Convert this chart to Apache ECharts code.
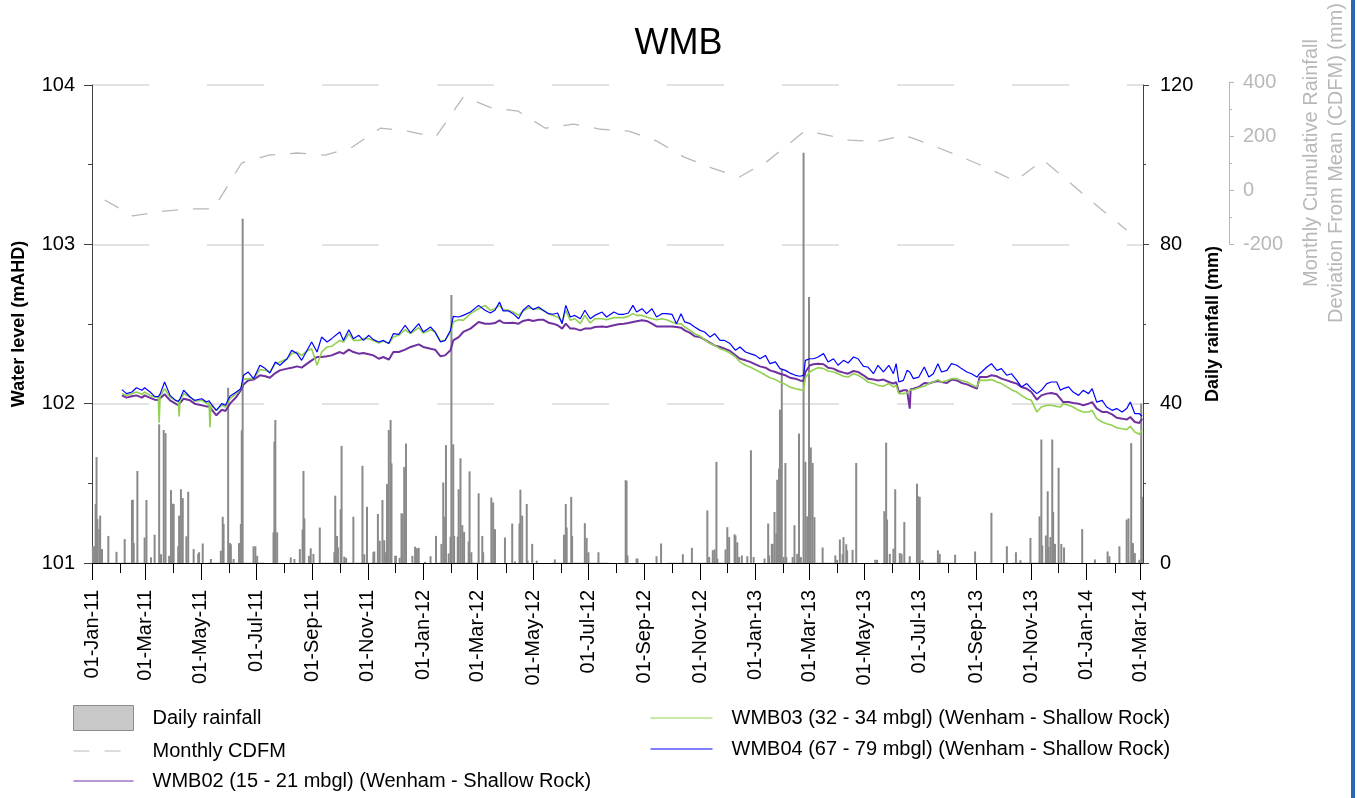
<!DOCTYPE html>
<html>
<head>
<meta charset="utf-8">
<title>WMB</title>
<script src="https://cdn.jsdelivr.net/npm/echarts@6/dist/echarts.min.js"></script>
<style>
  html, body { margin: 0; padding: 0; background: #fff; }
  #chart { width: 1357px; height: 798px; }
</style>
</head>
<body>
<div id="chart"></div>
<script>
// all days are counted from 01-Jan-2011 (day 0)
var dayCount = 1159
var monthNames = ['Jan', 'Feb', 'Mar', 'Apr', 'May', 'Jun', 'Jul', 'Aug', 'Sep', 'Oct', 'Nov', 'Dec']

// daily rainfall (mm), only days with rain
var rainDay = [1, 3, 4, 5, 6, 8, 9, 11, 18, 27, 36, 44, 45, 46, 50, 58, 60, 65, 69, 74, 76, 79, 81, 85, 87, 89, 90, 95, 96, 98,
  100, 104, 106, 112, 117, 118, 122, 131, 142, 144, 145, 150, 152, 153, 156, 162, 164, 165, 166, 178, 180, 182, 200, 201, 202, 204,
  219, 223, 229, 232, 233, 234, 239, 241, 244, 251, 267, 268, 270, 271, 274, 275, 278, 280, 288, 298, 300, 303, 310, 311, 315, 317,
  320, 322, 324, 325, 327, 329, 330, 334, 335, 339, 341, 342, 344, 346, 353, 356, 358, 360, 367, 373, 379, 385, 387, 389, 390, 393,
  395, 396, 398, 399, 403, 404, 406, 408, 410, 415, 416, 418, 426, 430, 431, 440, 442, 444, 455, 463, 466, 471, 472, 474, 479, 480,
  485, 490, 510, 520, 522, 523, 528, 529, 543, 545, 547, 558, 588, 589, 590, 600, 601, 622, 627, 651, 661, 678, 680, 684, 686, 688,
  689, 698, 700, 702, 708, 709, 711, 713, 716, 722, 726, 729, 741, 745, 746, 749, 750, 752, 754, 755, 757, 758, 760, 762, 764, 765,
  772, 774, 777, 778, 779, 781, 784, 786, 788, 790, 792, 794, 796, 805, 819, 821, 824, 827, 828, 831, 832, 838, 842, 863, 865, 873,
  875, 876, 879, 883, 885, 890, 892, 895, 901, 909, 910, 912, 915, 932, 934, 951, 973, 991, 1008, 1018, 1023, 1034, 1044, 1046, 1047,
  1051, 1053, 1054, 1056, 1058, 1059, 1061, 1065, 1068, 1071, 1091, 1105, 1119, 1121, 1132, 1140, 1142, 1145, 1147, 1149, 1154, 1156, 1157]
var rainMm = [4.2, 4.2, 14.8, 26.6, 11.0, 8.5, 11.9, 3.5, 6.8, 2.8, 6.0, 15.8, 15.9, 5.0, 23.1, 6.4, 15.8, 1.4, 7.1, 34.8, 2.2, 33.4, 32.6, 1.8, 18.3, 14.9, 14.8, 4.2, 11.9, 18.5,
  16.3, 6.7, 17.9, 3.5, 2.3, 2.7, 4.9, 1.0, 3.1, 11.6, 9.8, 44.0, 5.0, 4.7, 1.0, 5.0, 9.8, 33.3, 86.4, 4.2, 4.2, 1.8, 7.7, 30.5, 35.9, 7.7,
  1.4, 1.0, 3.5, 8.4, 23.1, 11.2, 1.8, 3.7, 2.3, 8.9, 2.7, 16.9, 6.8, 3.9, 13.5, 29.4, 1.6, 1.3, 11.6, 24.4, 2.2, 14.1, 2.7, 2.9, 12.3, 5.6,
  15.8, 5.7, 2.7, 19.8, 33.4, 35.9, 25.0, 1.8, 1.8, 1.3, 12.5, 12.3, 24.1, 30.0, 1.8, 4.1, 3.7, 3.8, 0.3, 1.7, 6.8, 4.8, 20.2, 11.6, 29.6, 2.4,
  6.6, 67.3, 29.8, 6.8, 6.6, 18.5, 26.3, 9.5, 7.8, 5.4, 23.0, 2.7, 17.5, 6.8, 2.7, 16.4, 15.2, 8.5, 6.4, 9.9, 0.4, 9.9, 18.4, 11.9, 14.8, 0.6,
  4.8, 0.6, 0.9, 7.1, 14.8, 8.9, 16.6, 6.8, 10.0, 6.3, 2.7, 2.7, 20.8, 20.6, 1.9, 1.1, 1.1, 1.7, 4.9, 2.2, 3.8, 13.2, 1.5, 3.2, 3.4, 25.4,
  1.1, 3.4, 9.0, 6.5, 7.2, 6.9, 5.2, 1.5, 1.9, 1.7, 28.3, 1.5, 1.1, 9.9, 1.9, 4.8, 4.8, 12.8, 7.4, 20.9, 23.7, 38.5, 48.7, 1.5, 25.1, 1.5,
  1.5, 9.5, 2.3, 1.7, 32.5, 1.5, 103.0, 25.4, 11.7, 66.8, 29.0, 25.1, 11.5, 3.9, 1.9, 0.8, 5.9, 2.2, 6.5, 4.7, 3.2, 3.3, 25.1, 0.8, 0.8, 13.0,
  30.2, 10.9, 2.3, 3.6, 18.5, 2.5, 2.3, 10.3, 1.7, 19.9, 16.8, 16.6, 0.7, 3.2, 2.3, 2.1, 2.9, 12.6, 4.2, 2.7, 0.7, 6.3, 11.7, 31.0, 4.4,
  6.9, 18.0, 4.0, 6.5, 31.0, 12.8, 4.8, 23.9, 4.8, 3.9, 8.5, 0.9, 2.9, 1.7, 4.2, 10.9, 11.2, 30.1, 5.0, 2.5, 0.8, 40.0, 16.6]

// monthly cumulative rainfall deviation from mean (mm)
var cdfmDay = [14, 45, 73, 104, 134, 165, 195, 226, 257, 287, 318, 348, 379, 410, 439, 470, 500, 531, 561, 592, 623, 653, 684, 714,
  745, 786, 804, 835, 865, 896, 926, 957, 988, 1018, 1049, 1079, 1110, 1141]
var cdfmMm = [-37, -96, -81, -70, -70, 100, 129, 137, 129, 159, 229, 218, 196, 347, 306, 292, 229, 244, 225, 218, 181, 122, 81, 48,
  107, 218, 208, 185, 179, 203, 166, 125, 81, 33, 111, 26, -63, -148]

// groundwater levels (mAHD)
var levelDay = [33, 38, 44, 49, 55, 58, 64, 69, 73, 74, 75, 80, 86, 92, 95, 96, 97, 101, 108, 113, 121, 126, 129, 130, 131, 137, 143, 147,
  152, 159, 164, 167, 172, 178, 185, 191, 196, 202, 207, 215, 220, 226, 231, 237, 242, 248, 253, 259, 264, 273, 277, 283, 288, 294,
  299, 305, 310, 316, 321, 327, 332, 338, 345, 351, 360, 365, 373, 378, 384, 389, 395, 398, 404, 409, 417, 426, 433, 439, 444, 449,
  453, 459, 464, 470, 475, 481, 486, 492, 497, 503, 508, 513, 518, 522, 527, 532, 538, 543, 549, 554, 562, 567, 575, 580, 586, 591,
  596, 600, 606, 611, 617, 622, 628, 633, 639, 644, 649, 653, 659, 664, 670, 675, 681, 686, 692, 697, 703, 709, 714, 720, 725, 731,
  736, 742, 747, 753, 758, 764, 769, 775, 780, 784, 786, 791, 795, 800, 806, 811, 817, 822, 828, 833, 839, 844, 850, 855, 861, 866,
  872, 878, 883, 886, 889, 894, 898, 900, 901, 902, 905, 911, 917, 922, 927, 932, 936, 942, 947, 953, 958, 964, 969, 975, 978, 980,
  986, 991, 997, 1002, 1008, 1013, 1019, 1024, 1030, 1035, 1041, 1046, 1052, 1057, 1063, 1067, 1070, 1076, 1081, 1087, 1092, 1098,
  1102, 1107, 1113, 1118, 1124, 1129, 1135, 1140, 1144, 1149, 1154, 1157]
var wmb02 = [102.052, 102.038, 102.046, 102.052, 102.038, 102.052, 102.036, 102.025, 102.023, 102.021, 102.030, 102.059, 102.021, 102.000,
  101.990, 101.983, 101.995, 102.031, 102.021, 102.000, 101.990, 101.983, 101.983, 101.983, 101.975, 101.927, 101.962, 101.954,
  102.000, 102.042, 102.084, 102.121, 102.146, 102.151, 102.178, 102.172, 102.163, 102.192, 102.209, 102.220, 102.226, 102.234,
  102.226, 102.251, 102.272, 102.293, 102.293, 102.297, 102.303, 102.324, 102.314, 102.339, 102.324, 102.314, 102.318, 102.310,
  102.303, 102.282, 102.293, 102.276, 102.324, 102.324, 102.339, 102.356, 102.372, 102.356, 102.345, 102.339, 102.297, 102.303,
  102.335, 102.397, 102.418, 102.450, 102.471, 102.513, 102.502, 102.502, 102.506, 102.523, 102.508, 102.506, 102.508, 102.502,
  102.519, 102.527, 102.519, 102.527, 102.527, 102.508, 102.502, 102.492, 102.471, 102.502, 102.471, 102.471, 102.460, 102.471,
  102.471, 102.481, 102.485, 102.481, 102.492, 102.498, 102.502, 102.506, 102.513, 102.517, 102.523, 102.519, 102.502, 102.485,
  102.485, 102.485, 102.485, 102.481, 102.477, 102.460, 102.444, 102.423, 102.418, 102.402, 102.381, 102.366, 102.356, 102.345,
  102.331, 102.303, 102.282, 102.272, 102.262, 102.247, 102.234, 102.226, 102.209, 102.199, 102.188, 102.178, 102.163, 102.157,
  102.146, 102.142, 102.199, 102.241, 102.247, 102.251, 102.247, 102.226, 102.220, 102.205, 102.195, 102.188, 102.205, 102.199,
  102.178, 102.157, 102.151, 102.146, 102.151, 102.136, 102.126, 102.136, 102.073, 102.084, 102.084, 102.088, 101.969, 102.090,
  102.094, 102.105, 102.130, 102.126, 102.136, 102.142, 102.136, 102.130, 102.151, 102.146, 102.130, 102.121, 102.109, 102.094,
  102.167, 102.167, 102.167, 102.178, 102.172, 102.157, 102.146, 102.136, 102.126, 102.105, 102.094, 102.073, 102.025, 102.052,
  102.063, 102.067, 102.059, 102.031, 102.010, 102.010, 102.004, 102.000, 101.990, 102.000, 102.010, 101.969, 101.948, 101.948,
  101.933, 101.912, 101.906, 101.900, 101.916, 101.885, 101.879, 101.906]
var wmb03 = [102.063, 102.052, 102.063, 102.073, 102.059, 102.073, 102.052, 102.042, 102.040, 101.880, 102.045, 102.094, 102.042, 102.021,
  102.012, 101.920, 102.020, 102.063, 102.042, 102.015, 102.021, 102.000, 102.005, 101.850, 101.990, 101.958, 101.990, 101.979,
  102.031, 102.063, 102.094, 102.151, 102.157, 102.157, 102.213, 102.209, 102.199, 102.251, 102.262, 102.282, 102.314, 102.324,
  102.303, 102.331, 102.345, 102.241, 102.324, 102.356, 102.360, 102.397, 102.387, 102.439, 102.397, 102.397, 102.408, 102.408,
  102.397, 102.381, 102.393, 102.377, 102.418, 102.429, 102.464, 102.439, 102.477, 102.444, 102.464, 102.450, 102.393, 102.397,
  102.450, 102.513, 102.527, 102.523, 102.565, 102.596, 102.617, 102.586, 102.596, 102.617, 102.590, 102.586, 102.575, 102.554,
  102.582, 102.602, 102.596, 102.596, 102.586, 102.565, 102.554, 102.544, 102.513, 102.586, 102.523, 102.533, 102.502, 102.554,
  102.506, 102.533, 102.533, 102.527, 102.540, 102.540, 102.540, 102.548, 102.565, 102.554, 102.554, 102.544, 102.533, 102.527,
  102.533, 102.527, 102.513, 102.502, 102.502, 102.481, 102.460, 102.439, 102.423, 102.402, 102.377, 102.366, 102.345, 102.335,
  102.318, 102.293, 102.262, 102.241, 102.230, 102.213, 102.199, 102.178, 102.163, 102.151, 102.136, 102.121, 102.105, 102.094,
  102.088, 102.084, 102.163, 102.199, 102.213, 102.226, 102.220, 102.205, 102.199, 102.188, 102.172, 102.167, 102.188, 102.178,
  102.157, 102.136, 102.126, 102.115, 102.109, 102.126, 102.105, 102.115, 102.063, 102.063, 102.067, 102.075, 102.084, 102.085,
  102.088, 102.100, 102.109, 102.126, 102.136, 102.151, 102.136, 102.146, 102.157, 102.157, 102.146, 102.136, 102.121, 102.105,
  102.146, 102.151, 102.146, 102.151, 102.136, 102.126, 102.105, 102.088, 102.073, 102.052, 102.031, 102.021, 101.948, 101.979,
  101.990, 101.990, 101.983, 101.979, 102.000, 101.990, 101.979, 101.958, 101.948, 101.948, 101.958, 101.906, 101.885, 101.874,
  101.864, 101.849, 101.843, 101.837, 101.858, 101.822, 101.808, 101.837]
var wmb04 = [102.088, 102.063, 102.073, 102.100, 102.084, 102.100, 102.073, 102.046, 102.044, 102.042, 102.060, 102.136, 102.052, 102.021,
  102.015, 102.010, 102.030, 102.084, 102.042, 102.021, 102.031, 102.010, 102.018, 102.021, 102.000, 101.958, 102.000, 101.990,
  102.046, 102.073, 102.094, 102.178, 102.199, 102.157, 102.241, 102.220, 102.192, 102.262, 102.241, 102.282, 102.335, 102.314,
  102.272, 102.335, 102.387, 102.324, 102.418, 102.387, 102.408, 102.450, 102.397, 102.464, 102.408, 102.429, 102.397, 102.429,
  102.402, 102.387, 102.397, 102.377, 102.439, 102.435, 102.492, 102.444, 102.502, 102.450, 102.481, 102.450, 102.387, 102.397,
  102.460, 102.548, 102.544, 102.554, 102.575, 102.617, 102.586, 102.569, 102.586, 102.638, 102.582, 102.582, 102.565, 102.533,
  102.586, 102.617, 102.590, 102.607, 102.586, 102.565, 102.561, 102.569, 102.502, 102.617, 102.544, 102.554, 102.533, 102.586,
  102.533, 102.554, 102.575, 102.544, 102.575, 102.561, 102.561, 102.569, 102.617, 102.575, 102.596, 102.565, 102.596, 102.544,
  102.565, 102.565, 102.561, 102.502, 102.565, 102.513, 102.502, 102.481, 102.460, 102.450, 102.418, 102.439, 102.397, 102.397,
  102.377, 102.335, 102.356, 102.324, 102.314, 102.303, 102.282, 102.303, 102.251, 102.262, 102.220, 102.209, 102.192, 102.178,
  102.172, 102.178, 102.272, 102.282, 102.282, 102.293, 102.314, 102.262, 102.282, 102.241, 102.272, 102.255, 102.293, 102.282,
  102.234, 102.230, 102.188, 102.241, 102.199, 102.241, 102.188, 102.251, 102.136, 102.146, 102.209, 102.204, 102.199, 102.190,
  102.157, 102.167, 102.230, 102.167, 102.188, 102.251, 102.199, 102.209, 102.251, 102.241, 102.220, 102.199, 102.188, 102.167,
  102.188, 102.199, 102.230, 102.251, 102.209, 102.220, 102.178, 102.188, 102.146, 102.105, 102.126, 102.094, 102.063, 102.084,
  102.126, 102.136, 102.136, 102.084, 102.094, 102.105, 102.073, 102.052, 102.084, 102.063, 102.094, 102.010, 102.021, 101.979,
  101.958, 101.969, 101.948, 101.969, 102.010, 101.937, 101.937, 101.921]

var names = {
  rain: 'Daily rainfall',
  cdfm: 'Monthly CDFM',
  w02: 'WMB02 (15 - 21 mbgl) (Wenham - Shallow Rock)',
  w03: 'WMB03 (32 - 34 mbgl) (Wenham - Shallow Rock)',
  w04: 'WMB04 (67 - 79 mbgl) (Wenham - Shallow Rock)'
}

var days = []
for (var i = 0; i < dayCount; i++) {
  days.push(new Date(Date.UTC(2011, 0, 1 + i)).toISOString().slice(0, 10))
}

function pairs(xs, ys) {
  return xs.map(function (x, i) { return [x, ys[i]] })
}
function isMonthStart(idx, value) {
  return value.slice(8) === '01'
}
function isOddMonthStart(idx, value) {
  return value.slice(8) === '01' && Number(value.slice(5, 7)) % 2 === 1
}
function dayLabel(value) {
  return value.slice(8) + '-' + monthNames[Number(value.slice(5, 7)) - 1] + '-' + value.slice(2, 4)
}
// legend entry for a line: plain line, no marker
function lineEntry(name) {
  return { name: name, itemStyle: { opacity: 0 } }
}

var font = "'Liberation Sans', Arial, sans-serif"
var axisGrey = '#404040'
var cdfmGrey = '#b8b8b8'

var chart = echarts.init(document.getElementById('chart'))
chart.setOption({
  animation: false,
  textStyle: { fontFamily: font },
  title: {
    text: 'WMB',
    left: 'center',
    top: 21,
    textStyle: { fontSize: 36, fontWeight: 'normal', color: '#000', fontFamily: font }
  },
  legend: [{
    left: 73,
    top: 705,
    padding: 0,
    orient: 'vertical',
    itemWidth: 60,
    itemHeight: 25,
    itemGap: 10,
    selectedMode: false,
    lineStyle: { width: 1 },
    textStyle: { fontSize: 20, color: '#000', padding: [0, 0, 0, 14] },
    data: [
      { name: names.rain, icon: 'rect', itemStyle: { color: '#c8c8c8', borderColor: '#8c8c8c', borderWidth: 1 } },
      lineEntry(names.cdfm),
      lineEntry(names.w02)
    ]
  }, {
    left: 650,
    top: 708,
    padding: 0,
    orient: 'vertical',
    itemWidth: 62,
    itemHeight: 25,
    itemGap: 11,
    selectedMode: false,
    lineStyle: { width: 1 },
    textStyle: { fontSize: 20, color: '#000', padding: [0, 0, 0, 14] },
    data: [lineEntry(names.w03), lineEntry(names.w04)]
  }],
  grid: [
    { left: 92, right: 214, top: 85, bottom: 235 },
    { left: 92, right: 214, top: 81, height: 163 }
  ],
  xAxis: [{
    type: 'category',
    gridIndex: 0,
    data: days,
    boundaryGap: false,
    position: 'bottom',
    axisLine: { lineStyle: { color: '#000' } },
    axisTick: { interval: isOddMonthStart, length: 17, lineStyle: { color: '#000' } },
    axisLabel: {
      interval: isOddMonthStart,
      rotate: 90,
      margin: 27,
      fontSize: 20,
      color: '#000',
      formatter: dayLabel
    },
    splitLine: { show: false }
  }, {
    type: 'category',
    gridIndex: 0,
    data: days,
    boundaryGap: false,
    position: 'bottom',
    axisLine: { show: false },
    axisTick: { interval: isMonthStart, length: 10, lineStyle: { color: '#000' } },
    axisLabel: { show: false },
    splitLine: { show: false }
  }, {
    type: 'category',
    gridIndex: 1,
    data: days,
    boundaryGap: false,
    show: false
  }],
  yAxis: [{
    type: 'value',
    gridIndex: 0,
    position: 'left',
    min: 101,
    max: 104,
    interval: 1,
    name: 'Water level (mAHD)',
    nameLocation: 'middle',
    nameRotate: 90,
    nameGap: 64,
    nameTextStyle: { fontSize: 18, fontWeight: 'bold', color: '#000' },
    axisLine: { show: true, lineStyle: { color: axisGrey } },
    axisTick: { show: true, length: 8, lineStyle: { color: axisGrey } },
    minorTick: { show: true, splitNumber: 2, length: 4, lineStyle: { color: axisGrey } },
    axisLabel: { fontSize: 20, color: '#000', margin: 17 },
    splitLine: { show: true, lineStyle: { color: '#d9d9d9', width: 1.5, type: [57, 58] } }
  }, {
    type: 'value',
    gridIndex: 0,
    position: 'right',
    min: 0,
    max: 120,
    interval: 40,
    name: 'Daily rainfall (mm)',
    nameLocation: 'middle',
    nameRotate: 90,
    nameGap: 48,
    nameTextStyle: { fontSize: 18, fontWeight: 'bold', color: '#000' },
    axisLine: { show: true, lineStyle: { color: axisGrey } },
    axisTick: { show: true, length: 6, lineStyle: { color: axisGrey } },
    minorTick: { show: true, splitNumber: 2, length: 3, lineStyle: { color: axisGrey } },
    axisLabel: { fontSize: 20, color: '#000', margin: 17 },
    splitLine: { show: false }
  }, {
    type: 'value',
    gridIndex: 1,
    position: 'right',
    offset: 87,
    min: -200,
    max: 400,
    interval: 200,
    name: 'Monthly Cumulative Rainfall\nDeviation From Mean (CDFM) (mm)',
    nameLocation: 'middle',
    nameRotate: 90,
    nameGap: 70,
    nameTextStyle: { fontSize: 20, color: cdfmGrey, lineHeight: 25 },
    axisLine: { show: true, lineStyle: { color: cdfmGrey } },
    axisTick: { show: true, length: 5, lineStyle: { color: cdfmGrey } },
    minorTick: { show: true, splitNumber: 2, length: 3, lineStyle: { color: cdfmGrey } },
    axisLabel: { fontSize: 20, color: cdfmGrey, margin: 14 },
    splitLine: { show: false }
  }],
  series: [{
    name: names.rain,
    type: 'bar',
    xAxisIndex: 0,
    yAxisIndex: 1,
    barWidth: 2,
    itemStyle: { color: '#8a8a8a' },
    data: pairs(rainDay, rainMm)
  }, {
    name: names.cdfm,
    type: 'line',
    xAxisIndex: 2,
    yAxisIndex: 2,
    symbol: 'none',
    lineStyle: { color: cdfmGrey, width: 1.3, type: [16, 15] },
    itemStyle: { color: cdfmGrey },
    data: pairs(cdfmDay, cdfmMm)
  }, {
    name: names.w02,
    type: 'line',
    xAxisIndex: 0,
    yAxisIndex: 0,
    symbol: 'none',
    lineStyle: { color: '#7030a0', width: 2 },
    itemStyle: { color: '#7030a0' },
    data: pairs(levelDay, wmb02)
  }, {
    name: names.w03,
    type: 'line',
    xAxisIndex: 0,
    yAxisIndex: 0,
    symbol: 'none',
    lineStyle: { color: '#92d050', width: 1.6 },
    itemStyle: { color: '#92d050' },
    data: pairs(levelDay, wmb03)
  }, {
    name: names.w04,
    type: 'line',
    xAxisIndex: 0,
    yAxisIndex: 0,
    symbol: 'none',
    lineStyle: { color: '#0000ff', width: 1.2 },
    itemStyle: { color: '#0000ff' },
    data: pairs(levelDay, wmb04)
  }],
  graphic: [{
    type: 'rect',
    left: 1351,
    top: 0,
    shape: { width: 4, height: 798 },
    style: { fill: '#2b67b0' }
  }]
})
</script>
</body>
</html>
